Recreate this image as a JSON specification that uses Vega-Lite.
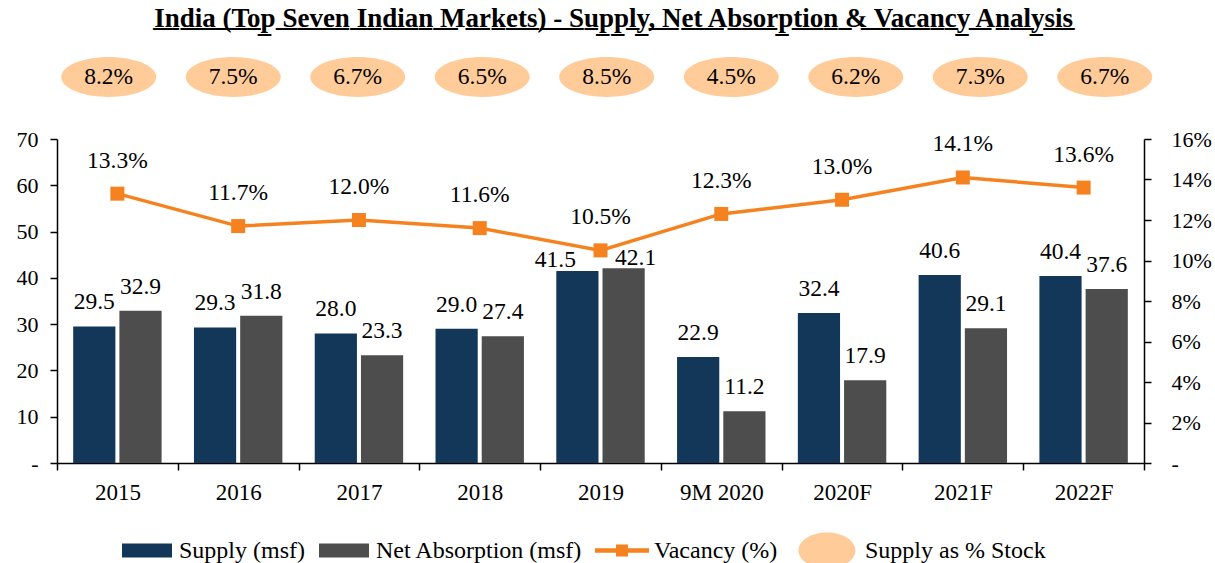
{
  "$schema": "https://vega.github.io/schema/vega-lite/v6.json",
  "padding": {"left": 16, "top": 5, "right": 5, "bottom": 5},
  "background": "white",
  "config": {
    "font": "Liberation Serif",
    "view": {"stroke": null},
    "axis": {"labelFont": "Liberation Serif", "labelFontSize": 22, "labelColor": "black", "domainColor": "black", "tickColor": "black", "grid": false, "title": null, "domainWidth": 1.5, "tickWidth": 1.5, "tickSize": 7},
    "legend": {"labelFont": "Liberation Serif", "labelFontSize": 24, "labelColor": "black"}
  },
  "title": {
    "text": "I\u0332n\u0332d\u0332i\u0332a\u0332 \u0332(\u0332T\u0332o\u0332p\u0332 \u0332S\u0332e\u0332v\u0332e\u0332n\u0332 \u0332I\u0332n\u0332d\u0332i\u0332a\u0332n\u0332 \u0332M\u0332a\u0332r\u0332k\u0332e\u0332t\u0332s\u0332)\u0332 \u0332-\u0332 \u0332S\u0332u\u0332p\u0332p\u0332l\u0332y\u0332,\u0332 \u0332N\u0332e\u0332t\u0332 \u0332A\u0332b\u0332s\u0332o\u0332r\u0332p\u0332t\u0332i\u0332o\u0332n\u0332 \u0332&\u0332 \u0332V\u0332a\u0332c\u0332a\u0332n\u0332c\u0332y\u0332 \u0332A\u0332n\u0332a\u0332l\u0332y\u0332s\u0332i\u0332s\u0332",
    "font": "Liberation Serif",
    "fontSize": 27,
    "fontWeight": "bold",
    "color": "black",
    "anchor": "middle",
    "offset": 24
  },
  "datasets": {
    "bars": [
      {"year": "2015", "series": "Supply (msf)", "value": 29.5},
      {"year": "2015", "series": "Net Absorption (msf)", "value": 32.9},
      {"year": "2016", "series": "Supply (msf)", "value": 29.3},
      {"year": "2016", "series": "Net Absorption (msf)", "value": 31.8},
      {"year": "2017", "series": "Supply (msf)", "value": 28.0},
      {"year": "2017", "series": "Net Absorption (msf)", "value": 23.3},
      {"year": "2018", "series": "Supply (msf)", "value": 29.0},
      {"year": "2018", "series": "Net Absorption (msf)", "value": 27.4},
      {"year": "2019", "series": "Supply (msf)", "value": 41.5},
      {"year": "2019", "series": "Net Absorption (msf)", "value": 42.1},
      {"year": "9M 2020", "series": "Supply (msf)", "value": 22.9},
      {"year": "9M 2020", "series": "Net Absorption (msf)", "value": 11.2},
      {"year": "2020F", "series": "Supply (msf)", "value": 32.4},
      {"year": "2020F", "series": "Net Absorption (msf)", "value": 17.9},
      {"year": "2021F", "series": "Supply (msf)", "value": 40.6},
      {"year": "2021F", "series": "Net Absorption (msf)", "value": 29.1},
      {"year": "2022F", "series": "Supply (msf)", "value": 40.4},
      {"year": "2022F", "series": "Net Absorption (msf)", "value": 37.6}
    ],
    "yearly": [
      {"year": "2015", "vacancy": 0.133, "stock": 0.082},
      {"year": "2016", "vacancy": 0.117, "stock": 0.075},
      {"year": "2017", "vacancy": 0.120, "stock": 0.067},
      {"year": "2018", "vacancy": 0.116, "stock": 0.065},
      {"year": "2019", "vacancy": 0.105, "stock": 0.085},
      {"year": "9M 2020", "vacancy": 0.123, "stock": 0.045},
      {"year": "2020F", "vacancy": 0.130, "stock": 0.062},
      {"year": "2021F", "vacancy": 0.141, "stock": 0.073},
      {"year": "2022F", "vacancy": 0.136, "stock": 0.067}
    ]
  },
  "bounds": "flush",
  "center": true,
  "spacing": 42,
  "vconcat": [
    {
      "data": {"name": "yearly"},
      "width": 1133,
      "height": 40,
      "encoding": {
        "x": {"field": "year", "type": "nominal", "sort": null, "axis": null, "scale": {"type": "band", "paddingInner": 0, "paddingOuter": 0.05, "align": 1}}
      },
      "layer": [
        {
          "mark": {"type": "point", "filled": true, "opacity": 1, "shape": "M-1,0A1,0.42,0,1,0,1,0A1,0.42,0,1,0,-1,0Z", "size": 9025, "strokeWidth": 0},
          "encoding": {
            "color": {"datum": "Supply as % Stock", "type": "nominal",
              "scale": {"domain": ["Supply (msf)", "Net Absorption (msf)", "Vacancy (%)", "Supply as % Stock"], "range": ["#133759", "#4D4D4D", "#F5821F", "#FFCC99"]}}
          }
        },
        {
          "mark": {"type": "text", "fontSize": 23.5, "font": "Liberation Serif", "color": "black"},
          "encoding": {"text": {"field": "stock", "type": "quantitative", "format": ".1%"}}
        }
      ]
    },
    {
      "width": 1087,
      "height": 324,
      "encoding": {
        "x": {"field": "year", "type": "nominal", "sort": null,
          "scale": {"type": "band", "paddingInner": 0, "paddingOuter": 0},
          "axis": {"labelAngle": 0, "tickBand": "extent", "labelPadding": 11, "labelFontSize": 23}}
      },
      "layer": [
        {
          "data": {"name": "bars"},
          "encoding": {
            "xOffset": {"field": "series", "type": "nominal", "sort": ["Supply (msf)", "Net Absorption (msf)"], "scale": {"paddingInner": 0.087, "paddingOuter": 0.35}},
            "y": {"field": "value", "type": "quantitative", "scale": {"domain": [0, 70]},
              "axis": {"values": [0, 10, 20, 30, 40, 50, 60, 70], "labelExpr": "datum.value === 0 ? '-' : datum.label", "labelPadding": 12}}
          },
          "layer": [
            {
              "mark": {"type": "bar"},
              "encoding": {
                "color": {"field": "series", "type": "nominal",
                  "scale": {"domain": ["Supply (msf)", "Net Absorption (msf)", "Vacancy (%)", "Supply as % Stock"], "range": ["#133759", "#4D4D4D", "#F5821F", "#FFCC99"]},
                  "legend": {
                    "orient": "none", "legendX": 83, "legendY": 463, "direction": "horizontal", "title": null,
                    "labelFont": "Liberation Serif", "labelFontSize": 24, "labelColor": "black", "labelLimit": 400,
                    "symbolSize": 3600, "symbolStrokeWidth": 0, "labelOffset": 2, "columnPadding": 9,
                    "encode": {
                      "symbols": {
                        "update": {
                          "shape": {"signal": "(datum.value === 'Supply (msf)' || datum.value === 'Net Absorption (msf)') ? 'M0,-0.6Z M0,0.6Z M-0.833,-0.23H0.833V0.23H-0.833Z' : (datum.value === 'Vacancy (%)' ? 'M0,-0.6Z M0,0.6Z M-0.9,-0.075H0.9V0.075H-0.9Z M-0.2,-0.2H0.2V0.2H-0.2Z' : 'M-0.95,-0.6Z M-0.95,0.6Z M-0.617,0A0.95,0.6,0,1,0,1.283,0A0.95,0.6,0,1,0,-0.617,0Z')"},
                          "fill": {"scale": "color", "field": "value"},
                          "stroke": {"value": "transparent"},
                          "opacity": {"value": 1}
                        }
                      },
                      "labels": {
                        "update": {
                          "dx": {"signal": "datum.value === 'Supply as % Stock' ? 16 : 0"},
                          "font": {"value": "Liberation Serif"}
                        }
                      }
                    }
                  }
                }
              }
            },
            {
              "transform": [{"filter": "datum.year !== '2019'"}],
              "mark": {"type": "text", "fontSize": 23.5, "font": "Liberation Serif", "color": "black", "baseline": "middle", "dy": -24},
              "encoding": {"text": {"field": "value", "type": "quantitative", "format": ".1f"}}
            },
            {
              "transform": [{"filter": "datum.year === '2019' && datum.series === 'Supply (msf)'"}],
              "mark": {"type": "text", "fontSize": 23.5, "font": "Liberation Serif", "color": "black", "baseline": "middle", "dy": -11, "dx": -22},
              "encoding": {"text": {"field": "value", "type": "quantitative", "format": ".1f"}}
            },
            {
              "transform": [{"filter": "datum.year === '2019' && datum.series === 'Net Absorption (msf)'"}],
              "mark": {"type": "text", "fontSize": 23.5, "font": "Liberation Serif", "color": "black", "baseline": "middle", "dy": -10, "dx": 12},
              "encoding": {"text": {"field": "value", "type": "quantitative", "format": ".1f"}}
            }
          ]
        },
        {
          "data": {"name": "yearly"},
          "encoding": {
            "y": {"field": "vacancy", "type": "quantitative", "scale": {"domain": [0, 0.16]},
              "axis": {"orient": "right", "values": [0, 0.02, 0.04, 0.06, 0.08, 0.1, 0.12, 0.14, 0.16], "format": ".0%", "labelExpr": "datum.value === 0 ? '-' : datum.label", "labelPadding": 20}}
          },
          "layer": [
            {
              "mark": {"type": "line", "strokeWidth": 3.5},
              "encoding": {"color": {"datum": "Vacancy (%)", "type": "nominal",
                "scale": {"domain": ["Supply (msf)", "Net Absorption (msf)", "Vacancy (%)", "Supply as % Stock"], "range": ["#133759", "#4D4D4D", "#F5821F", "#FFCC99"]}}}
            },
            {
              "mark": {"type": "point", "shape": "square", "filled": true, "opacity": 1, "size": 196},
              "encoding": {"color": {"datum": "Vacancy (%)", "type": "nominal"}}
            },
            {
              "mark": {"type": "text", "fontSize": 23.5, "font": "Liberation Serif", "color": "black", "baseline": "middle", "dy": -33},
              "encoding": {"text": {"field": "vacancy", "type": "quantitative", "format": ".1%"}}
            }
          ]
        }
      ],
      "resolve": {"scale": {"y": "independent"}}
    }
  ]
}
